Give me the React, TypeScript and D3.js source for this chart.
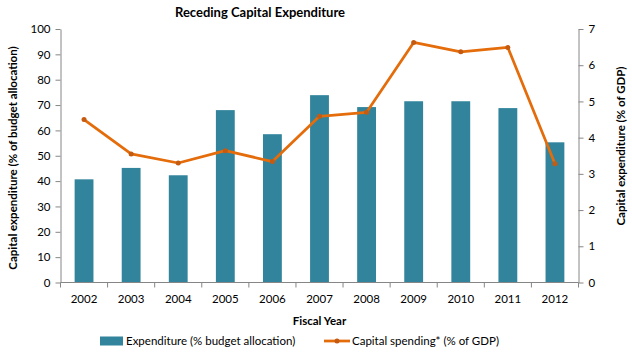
import React, { useEffect, useRef } from 'react';
import * as d3 from 'd3';

const years = ['2002', '2003', '2004', '2005', '2006', '2007', '2008', '2009', '2010', '2011', '2012'];
const budgetShare = [40.7, 45.2, 42.3, 68, 58.5, 73.9, 69.2, 71.5, 71.5, 68.8, 55.3];
const gdpShare = [4.5, 3.55, 3.3, 3.64, 3.34, 4.59, 4.7, 6.63, 6.37, 6.49, 3.28];
const leftTicks = [0, 10, 20, 30, 40, 50, 60, 70, 80, 90, 100];
const rightTicks = [0, 1, 2, 3, 4, 5, 6, 7];

const W = 632;
const H = 358;
const FONT = 'Lato, "Open Sans", sans-serif';
const BAR = '#31849b';
const LINE = '#e46c0a';
const AXIS = '#868686';

export default function App() {
  const ref = useRef<SVGSVGElement>(null);

  useEffect(() => {
    const svg = d3.select(ref.current);
    svg.selectAll('*').remove();

    const left = 60.5;
    const right = 578.5;
    const top = 29;
    const bottom = 282.5;

    const x = d3.scaleBand().domain(years).range([left, right]).paddingInner(0.6).paddingOuter(0.3);
    const xc = d3.scaleBand().domain(years).range([left, right]);
    const yL = d3.scaleLinear().domain([0, 100]).range([bottom, top]);
    const yR = d3.scaleLinear().domain([0, 7]).range([bottom, top]);

    // title
    svg.append('text')
      .attr('x', 260).attr('y', 17)
      .attr('text-anchor', 'middle')
      .style('font', `bold 13px ${FONT}`)
      .text('Receding Capital Expenditure');

    // bars
    svg.append('g').selectAll('rect')
      .data(budgetShare)
      .enter().append('rect')
      .attr('x', (d, i) => x(years[i])!)
      .attr('width', x.bandwidth())
      .attr('y', (d) => yL(d))
      .attr('height', (d) => yL(0) - yL(d))
      .attr('fill', BAR);

    // left axis
    const gL = svg.append('g').attr('transform', `translate(${left},0)`);
    gL.call(d3.axisLeft(yL).tickValues(leftTicks).tickSize(5).tickSizeOuter(0));
    // right axis
    const gR = svg.append('g').attr('transform', `translate(${right},0)`);
    gR.call(d3.axisRight(yR).tickValues(rightTicks).tickFormat(d3.format('d')).tickSize(5).tickSizeOuter(0));
    // x axis
    const gX = svg.append('g').attr('transform', `translate(0,${bottom})`);
    gX.append('line').attr('x1', left).attr('x2', right).attr('stroke', AXIS);
    gX.selectAll('line.tk')
      .data(d3.range(years.length + 1))
      .enter().append('line')
      .attr('class', 'tk')
      .attr('x1', (i) => left + i * xc.step()).attr('x2', (i) => left + i * xc.step())
      .attr('y1', 0).attr('y2', 5)
      .attr('stroke', AXIS);
    gX.selectAll('text')
      .data(years)
      .enter().append('text')
      .attr('x', (d) => xc(d)! + xc.bandwidth() / 2)
      .attr('y', 20)
      .attr('text-anchor', 'middle')
      .style('font', `11.5px ${FONT}`)
      .attr('fill', '#000')
      .text((d) => d);

    [gL, gR].forEach((g) => {
      g.selectAll('path').attr('stroke', AXIS);
      g.selectAll('line').attr('stroke', AXIS);
      g.selectAll('text').style('font', `11.5px ${FONT}`).attr('fill', '#000');
    });
    gL.selectAll('text').attr('x', -10);
    gR.selectAll('text').attr('x', 10);

    // line
    const line = d3.line<number>()
      .x((d, i) => xc(years[i])! + xc.bandwidth() / 2)
      .y((d) => yR(d));
    svg.append('path')
      .datum(gdpShare)
      .attr('d', line)
      .attr('fill', 'none')
      .attr('stroke', LINE)
      .attr('stroke-width', 2.75)
      .attr('stroke-linejoin', 'round');
    svg.append('g').selectAll('circle')
      .data(gdpShare)
      .enter().append('circle')
      .attr('cx', (d, i) => xc(years[i])! + xc.bandwidth() / 2)
      .attr('cy', (d) => yR(d))
      .attr('r', 2.5)
      .attr('fill', '#c55a11');

    // axis titles
    svg.append('text')
      .attr('x', (left + right) / 2).attr('y', 325)
      .attr('text-anchor', 'middle')
      .style('font', `bold 11.5px ${FONT}`)
      .text('Fiscal Year');
    svg.append('text')
      .attr('transform', `translate(17,158) rotate(-90)`)
      .attr('text-anchor', 'middle')
      .style('font', `bold 11.5px ${FONT}`)
      .text('Capital expenditure (% of budget allocation)');
    svg.append('text')
      .attr('transform', `translate(625,146) rotate(-90)`)
      .attr('text-anchor', 'middle')
      .style('font', `bold 11.5px ${FONT}`)
      .text('Capital expenditure (% of GDP)');

    // legend
    const lg = svg.append('g');
    lg.append('rect').attr('x', 100).attr('y', 336.5).attr('width', 23).attr('height', 9).attr('fill', BAR);
    lg.append('text').attr('x', 126).attr('y', 345).style('font', `11.5px ${FONT}`).text('Expenditure (% budget allocation)');
    lg.append('line').attr('x1', 324).attr('x2', 350).attr('y1', 341).attr('y2', 341)
      .attr('stroke', LINE).attr('stroke-width', 2.75);
    lg.append('circle').attr('cx', 337).attr('cy', 341).attr('r', 2.5).attr('fill', '#c55a11');
    lg.append('text').attr('x', 352).attr('y', 345).style('font', `11.5px ${FONT}`).text('Capital spending* (% of GDP)');
  }, []);

  return (
    <svg ref={ref} width={W} height={H} style={{ display: 'block', position: 'absolute', left: 0, top: 0, background: '#fff' }} />
  );
}
